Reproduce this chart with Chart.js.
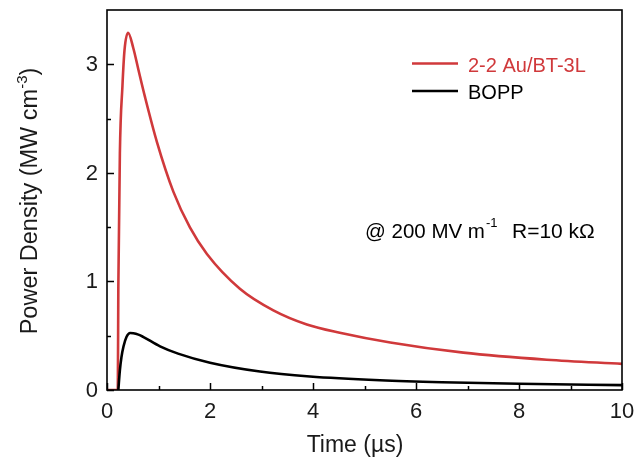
<!DOCTYPE html>
<html>
<head>
<meta charset="utf-8">
<script src="https://cdn.jsdelivr.net/npm/chart.js@4/dist/chart.umd.min.js"></script>
<style>
html,body{margin:0;padding:0;background:#fff;}
#wrap{width:635px;height:461px;position:relative;}
</style>
</head>
<body>
<div id="wrap"><canvas id="c" width="635" height="461"></canvas></div>
<script>
// ---- data ----
const timeRed   = [0, 0.1, 0.2, 0.21, 0.22, 0.25, 0.3, 0.34, 0.41, 0.51, 0.61, 0.74, 0.97, 1.29, 1.61, 1.94, 2.58, 3.23, 3.88, 4.52, 5.5, 6.92, 8.54, 10];
const auBT      = [0, 0, 0, 0, 0.95, 2.18, 2.8, 3.13, 3.29, 3.15, 2.95, 2.695, 2.284, 1.825, 1.497, 1.253, 0.933, 0.734, 0.604, 0.528, 0.438, 0.344, 0.279, 0.241];
const timeBlack = [0.22, 0.25, 0.28, 0.32, 0.38, 0.45, 0.51, 0.61, 0.7, 1.03, 1.38, 2.0, 2.97, 3.94, 5.3, 6.5, 8.0, 10];
const bopp      = [0, 0.18, 0.30, 0.40, 0.49, 0.525, 0.523, 0.51, 0.49, 0.402, 0.335, 0.251, 0.170, 0.125, 0.090, 0.0716, 0.0572, 0.045];
const xTicks = [0, 2, 4, 6, 8, 10];
const xMinor = [1, 3, 5, 7, 9];
const yTicks = [0, 1, 2, 3];
const yMinor = [0.5, 1.5, 2.5];
const seriesNames = ['2-2 Au/BT-3L', 'BOPP'];
const RED = '#d0393b';

const toXY = (xs, ys) => xs.map((x, i) => ({x: x, y: ys[i]}));

const FONT = '"Liberation Sans", Arial, sans-serif';

const decor = {
  id: 'decor',
  afterDraw(chart) {
    const ctx = chart.ctx;
    const a = chart.chartArea;
    const xs = chart.scales.x, ys = chart.scales.y;
    ctx.save();
    // frame
    ctx.strokeStyle = '#000';
    ctx.lineWidth = 1.6;
    ctx.strokeRect(a.left, a.top, a.right - a.left, a.bottom - a.top);
    // ticks
    ctx.lineWidth = 1.5;
    ctx.beginPath();
    xTicks.forEach(v => { const p = Math.round(xs.getPixelForValue(v)) + 0.5; ctx.moveTo(p, a.bottom); ctx.lineTo(p, a.bottom - 7); });
    xMinor.forEach(v => { const p = Math.round(xs.getPixelForValue(v)) + 0.5; ctx.moveTo(p, a.bottom); ctx.lineTo(p, a.bottom - 4); });
    yTicks.forEach(v => { const p = Math.round(ys.getPixelForValue(v)) + 0.5; ctx.moveTo(a.left, p); ctx.lineTo(a.left + 7, p); });
    yMinor.forEach(v => { const p = Math.round(ys.getPixelForValue(v)) + 0.5; ctx.moveTo(a.left, p); ctx.lineTo(a.left + 4, p); });
    ctx.stroke();
    // tick labels
    ctx.fillStyle = '#1a1a1a';
    ctx.font = '22px ' + FONT;
    ctx.textAlign = 'center';
    ctx.textBaseline = 'alphabetic';
    xTicks.forEach(v => ctx.fillText(String(v), xs.getPixelForValue(v), 418));
    ctx.textAlign = 'right';
    ctx.textBaseline = 'middle';
    yTicks.forEach(v => ctx.fillText(String(v), 98, ys.getPixelForValue(v) + 1));
    // x title
    ctx.font = '23px ' + FONT;
    ctx.textAlign = 'center';
    ctx.textBaseline = 'alphabetic';
    ctx.fillText('Time (\u00b5s)', 355, 452);
    // y title (rotated, with superscript)
    ctx.save();
    ctx.translate(37, 201);
    ctx.rotate(-Math.PI / 2);
    const main = 'Power Density (MW cm';
    const sup = '-3';
    const close = ')';
    ctx.font = '23.5px ' + FONT;
    const w1 = ctx.measureText(main).width;
    const w3 = ctx.measureText(close).width;
    ctx.font = '15px ' + FONT;
    const w2 = ctx.measureText(sup).width;
    const total = w1 + w2 + w3;
    let x0 = -total / 2;
    ctx.textAlign = 'left';
    ctx.font = '23.5px ' + FONT;
    ctx.fillText(main, x0, 0);
    ctx.font = '15px ' + FONT;
    ctx.fillText(sup, x0 + w1, -10);
    ctx.font = '23.5px ' + FONT;
    ctx.fillText(close, x0 + w1 + w2, 0);
    ctx.restore();
    // legend
    const lx1 = 412, lx2 = 458, tx = 468;
    ctx.lineWidth = 2.5;
    ctx.strokeStyle = RED;
    ctx.beginPath(); ctx.moveTo(lx1, 63.5); ctx.lineTo(lx2, 63.5); ctx.stroke();
    ctx.strokeStyle = '#000';
    ctx.beginPath(); ctx.moveTo(lx1, 91); ctx.lineTo(lx2, 91); ctx.stroke();
    ctx.font = '20px ' + FONT;
    ctx.textAlign = 'left';
    ctx.textBaseline = 'alphabetic';
    ctx.fillStyle = RED;
    ctx.fillText(seriesNames[0], tx, 72);
    ctx.fillStyle = '#000';
    ctx.fillText(seriesNames[1], tx, 98.5);
    // annotation
    const ay = 238;
    ctx.font = '20.5px ' + FONT;
    const s1 = '@ 200 MV m';
    ctx.fillText(s1, 365, ay);
    const sx = 365 + ctx.measureText(s1).width + 1;
    ctx.font = '13px ' + FONT;
    ctx.fillText('-1', sx, ay - 11);
    ctx.font = '21px ' + FONT;
    ctx.fillText('R=10 k\u03a9', 512, ay);
    ctx.restore();
  }
};

new Chart(document.getElementById('c'), {
  type: 'scatter',
  data: {
    datasets: [
      { label: seriesNames[0], data: toXY(timeRed, auBT), showLine: true, borderColor: RED, borderWidth: 2.6, pointRadius: 0, cubicInterpolationMode: 'monotone', order: 2 },
      { label: seriesNames[1], data: toXY(timeBlack, bopp), showLine: true, borderColor: '#000', borderWidth: 2.6, pointRadius: 0, cubicInterpolationMode: 'monotone', order: 1 }
    ]
  },
  options: {
    responsive: false,
    animation: false,
    layout: { padding: { left: 107, right: 13, top: 10, bottom: 71 } },
    plugins: { legend: { display: false }, tooltip: { enabled: false } },
    scales: {
      x: { type: 'linear', min: 0, max: 10, display: false },
      y: { type: 'linear', min: 0, max: 3.5, display: false }
    }
  },
  plugins: [decor]
});
</script>
</body>
</html>
